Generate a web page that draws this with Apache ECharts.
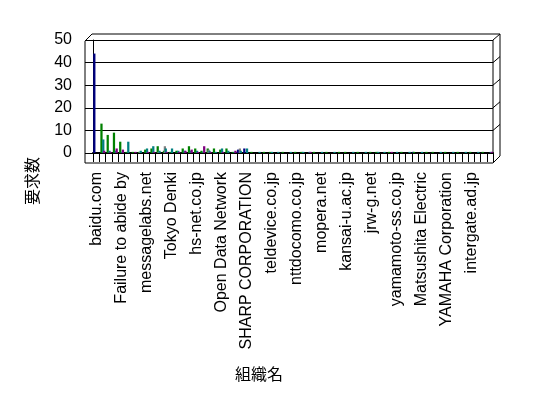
<!DOCTYPE html>
<html>
<head>
<meta charset="utf-8">
<script src="https://cdn.jsdelivr.net/npm/echarts@6/dist/echarts.min.js"></script>
<style>html,body{margin:0;padding:0;background:#fff;}#c{width:548px;height:398px;}</style>
</head>
<body>
<div id="c"></div>
<script>
var categories = [
 'baidu.com','org02','org03','org04',
 'Failure to abide by','org06','org07','org08',
 'messagelabs.net','org10','org11','org12',
 'Tokyo Denki','org14','org15','org16',
 'hs-net.co.jp','org18','org19','org20',
 'Open Data Network','org22','org23','org24',
 'SHARP CORPORATION','org26','org27','org28',
 'teldevice.co.jp','org30','org31','org32',
 'nttdocomo.co.jp','org34','org35','org36',
 'mopera.net','org38','org39','org40',
 'kansai-u.ac.jp','org42','org43','org44',
 'jrw-g.net','org46','org47','org48',
 'yamamoto-ss.co.jp','org50','org51','org52',
 'Matsushita Electric','org54','org55','org56',
 'YAMAHA Corporation','org58','org59','org60',
 'intergate.ad.jp','org62','org63','org64'
];
var yTicks = [0, 10, 20, 30, 40, 50];
var navy = [44,0,0,0,0,0,0,0,0,0, 0,0,0,0,0,0,0,0,0,0, 0,0,0,1.5,2,0,0,0,0,0, 0,0,0,0,0,0,0,0,0,0, 0,0,0,0,0,0,0,0,0,0, 0,0.5,0,0,0,0,0,0,0,0, 0,0,0,0];
var green = [0,13,8,9,5,0.5,0.5,0.5,1.5,2, 3,1,0.5,1,2,3,2,1,2,2, 1.5,2,0.5,0,0,0.5,0,0.5,0.5,0, 0.5,0,0.5,0.5,0,0.5,0,0.5,0,0.5, 0.5,0,0.5,0,0.5,0.5,0,0.5,0,0.5, 0,0.5,0,0.5,0.5,0,0.5,0,0.5,0, 0.5,0,0.5,0];
var teal = [0,6,1,1,0.5,5,0,1,2,3, 1,2,2,1,1,1,1,0.5,1,0.5, 2,1,0.5,1,2,0,0.5,0,0.5,0.5, 0,0.5,0,0.5,0.5,0,0.5,0,0.5,0, 0,0.5,0,0.5,0,0.5,0.5,0,0.5,0, 0.5,0,0.5,0,0,0.5,0,0.5,0,0.5, 0,0.5,0,0.5];
var purple = [0,1,0.5,2,1.5,0,0.5,0,0.5,0.5, 0,0.5,0,0.5,1,1.5,0.5,3,0.5,0, 0.5,0,1,0,0,0,0,0,0,0, 0,0,0,0,0.5,0,0,0,0,0, 0,0,0,0,0,0,0,0.5,0,0, 0,0,0,0,0,0,0,0,0,0, 0,0,0,0.5];
var gray = [0,0,0,0,0,0,0,0.5,0,0, 0.5,3,0,0,0,0,0,0,1.5,0, 0,0,0,2,0,0,0,0,0,0, 0,0,0,0,0,0,0,0,0,0, 0,0,0,0,0,0,0,0,0,0, 0,0,0,0,0,0,0,0,0,0, 0,0,0,0];
var seriesNames = ['系列1','系列2','系列3','系列4','系列5'];
var seriesData = [navy, green, gray, teal, purple];
var seriesColors = ['#000080','#008000','#808080','#008080','#800080'];

var chart = echarts.init(document.getElementById('c'), null, {renderer:'canvas'});
var GL = 93, GT = 40, GW = 400, GH = 113;
var series = seriesData.map(function(d, i){
  return {name: seriesNames[i], type:'bar', data:d, barGap:'-60%', barCategoryGap:'6%',
    itemStyle:{color:seriesColors[i]}, silent:true, animation:false};
});
var ln = function(x1,y1,x2,y2,w){return {type:'line', shape:{x1:x1,y1:y1,x2:x2,y2:y2}, style:{stroke:'#000', lineWidth:w||1}, silent:true};};
var deco = [
  ln(85,41,85,163), ln(85,41,92,34), ln(92,34,500,34), ln(500,34,500,156),
  ln(500,156,493,163), ln(85,163,493,163), ln(493,GT,493,GT+GH)
];
yTicks.forEach(function(v){
  var y = GT + GH - v/50*GH;
  if (v > 0) deco.push(ln(493,y,500,y-6));
});
deco.push({type:'text', left:235, top:366, style:{text:'組織名', font:'16px "Noto Sans CJK JP"', fill:'#000'}, silent:true});
deco.push({type:'text', x:24, y:205, rotation:Math.PI/2, style:{text:'要求数', font:'16px "Noto Sans CJK JP"', fill:'#000'}, silent:true});

chart.setOption({
  animation:false,
  backgroundColor:'#fff',
  grid:{left:GL, top:GT, width:GW, height:GH, containLabel:false},
  xAxis:{type:'category', data:categories, boundaryGap:true,
    axisLine:{show:true, lineStyle:{color:'#000', width:2}},
    axisTick:{show:true, interval:0, length:9, lineStyle:{color:'#000'}},
    axisLabel:{interval:3, rotate:90, margin:19, color:'#000', fontSize:16, fontFamily:'Liberation Sans'},
    splitLine:{show:false}},
  yAxis:{type:'value', min:0, max:50, interval:10,
    axisLine:{show:true, lineStyle:{color:'#000', width:1}},
    axisTick:{show:true, length:8, lineStyle:{color:'#000'}},
    axisLabel:{margin:21, color:'#000', fontSize:16, fontFamily:'Liberation Sans', padding:[4,0,0,0]},
    splitLine:{show:true, lineStyle:{color:'#000', width:1}}},
  series:series,
  graphic:deco
});
</script>
</body>
</html>
